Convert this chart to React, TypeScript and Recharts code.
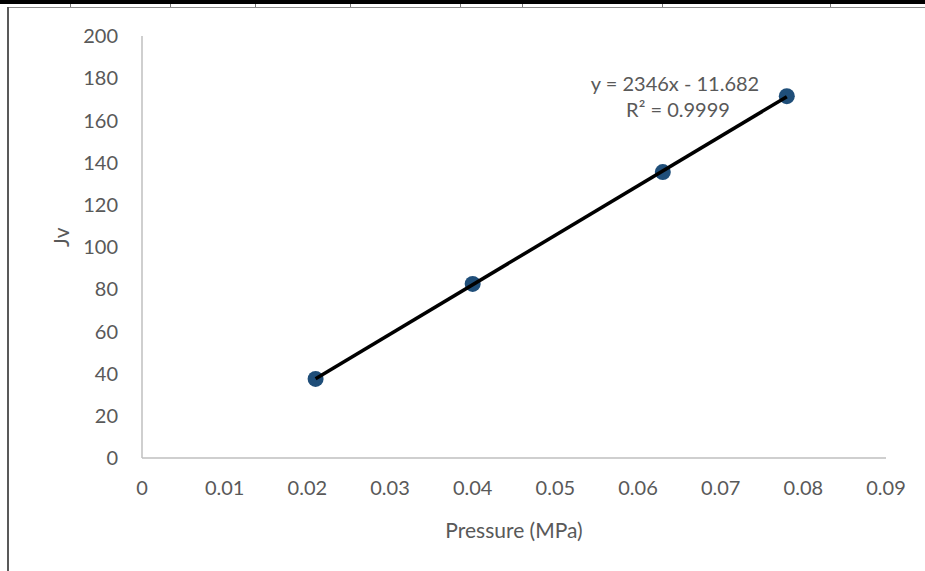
import React from "react";
import { ComposedChart, Scatter, XAxis, YAxis, Customized } from "recharts";

const pressure = [0.021, 0.04, 0.063, 0.078];
const jv = [37.5, 82.5, 135.5, 171.5];
const xTicks = [0, 0.01, 0.02, 0.03, 0.04, 0.05, 0.06, 0.07, 0.08, 0.09];
const yTicks = [0, 20, 40, 60, 80, 100, 120, 140, 160, 180, 200];
const equationLines = ["y = 2346x - 11.682", "R² = 0.9999"];

const points = pressure.map((x, i) => ({ x, y: jv[i] }));

// linear least squares, same as Excel's trendline
const n = pressure.length;
const mx = pressure.reduce((a, b) => a + b, 0) / n;
const my = jv.reduce((a, b) => a + b, 0) / n;
let sxy = 0;
let sxx = 0;
pressure.forEach((x, i) => {
  sxy += (x - mx) * (jv[i] - my);
  sxx += (x - mx) * (x - mx);
});
const slope = sxy / sxx;
const intercept = my - slope * mx;
const xMin = Math.min(...pressure);
const xMax = Math.max(...pressure);
const trendSegment = [
  { x: xMin, y: slope * xMin + intercept },
  { x: xMax, y: slope * xMax + intercept },
];

const FONT = "Lato, 'Open Sans', sans-serif";
const TEXT = "#595959";
const AXIS = "#bfbfbf";

const topMarks = [70, 170, 255, 350, 460, 522, 662, 830];

function Equation() {
  return (
    <text fontFamily={FONT} fontSize={20} fill={TEXT} textAnchor="middle">
      <tspan x={675} y={91}>
        {equationLines[0]}
      </tspan>
      <tspan x={678} y={117}>
        {equationLines[1]}
      </tspan>
    </text>
  );
}

const Dot = (props: any) => (
  <circle cx={props.cx} cy={props.cy} r={8} fill="#1f4e79" />
);
const NoDot = () => <g />;

export default function App() {
  return (
    <div
      style={{
        position: "absolute",
        left: 0,
        top: 0,
        width: 925,
        height: 571,
        background: "#fff",
        overflow: "hidden",
      }}
    >
      {/* bits of the surrounding document frame */}
      <div
        style={{
          position: "absolute",
          left: 0,
          top: 0,
          width: 925,
          height: 4,
          background: "#000",
        }}
      />
      {topMarks.map((x) => (
        <div
          key={x}
          style={{
            position: "absolute",
            left: x,
            top: 4,
            width: 1,
            height: 3,
            background: "#777",
          }}
        />
      ))}
      <div
        style={{
          position: "absolute",
          left: 8,
          top: 7,
          width: 917,
          height: 1,
          background: "#8c8c8c",
        }}
      />
      <div
        style={{
          position: "absolute",
          left: 7,
          top: 7,
          width: 2,
          height: 564,
          background: "#595959",
        }}
      />

      <ComposedChart
        width={925}
        height={571}
        margin={{ top: 36, right: 39, bottom: 53, left: 82 }}
        style={{ position: "absolute", left: 0, top: 0 }}
      >
        <XAxis
          type="number"
          dataKey="x"
          domain={[0, 0.09]}
          ticks={xTicks}
          interval={0}
          height={60}
          tickLine={false}
          tickSize={0}
          tickMargin={23}
          axisLine={{ stroke: AXIS, strokeWidth: 1.5 }}
          tick={{ fill: TEXT, fontSize: 20, fontFamily: FONT }}
          label={{
            value: "Pressure (MPa)",
            position: "insideBottom",
            offset: -20,
            fill: TEXT,
            fontSize: 21,
            fontFamily: FONT,
          }}
        />
        <YAxis
          type="number"
          dataKey="y"
          domain={[0, 200]}
          ticks={yTicks}
          interval={0}
          width={60}
          tickLine={false}
          tickSize={0}
          tickMargin={24}
          axisLine={{ stroke: AXIS, strokeWidth: 1.5 }}
          tick={{ fill: TEXT, fontSize: 20, fontFamily: FONT }}
          label={{
            value: "Jv",
            angle: -90,
            position: "insideLeft",
            offset: -20,
            fill: TEXT,
            fontSize: 21,
            fontFamily: FONT,
          }}
        />
        <Scatter
          data={points}
          fill="#1f4e79"
          shape={Dot}
          isAnimationActive={false}
        />
        {/* trendline drawn over the markers, like Excel */}
        <Scatter
          data={trendSegment}
          line={{ stroke: "#000", strokeWidth: 3.5 }}
          shape={NoDot}
          isAnimationActive={false}
        />
        <Customized component={Equation} />
      </ComposedChart>
    </div>
  );
}
